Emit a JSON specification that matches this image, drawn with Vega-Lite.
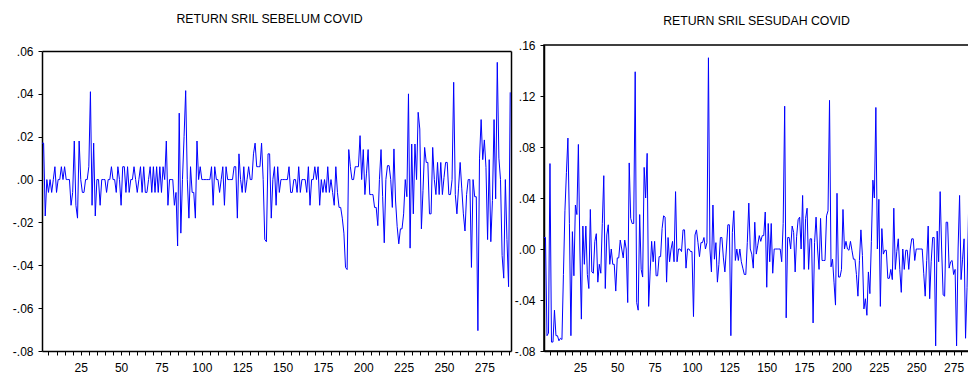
{
  "$schema": "https://vega.github.io/schema/vega-lite/v6.json",
  "padding": {"left": 12, "top": 12, "right": 0, "bottom": 0},
  "spacing": 0,
  "columns": 2,
  "align": "none",
  "config": {
    "font": "Liberation Sans",
    "view": {"stroke": "#000000", "strokeWidth": 1.5},
    "axis": {"domainColor": "#000000", "domainWidth": 1.5, "tickColor": "#000000", "labelColor": "#000000", "labelFont": "Liberation Sans", "labelFontSize": 12, "grid": false, "title": null},
    "title": {"font": "Liberation Sans", "fontWeight": "normal", "fontSize": 12, "color": "#000000"}
  },
  "datasets": {
    "sebelum": [
      {"t":1,"r":0.017},{"t":2,"r":0.017},{"t":3,"r":-0.017},{"t":4,"r":0},{"t":5,"r":-0.006},{"t":6,"r":0},{"t":7,"r":-0.006},{"t":8,"r":0},{"t":9,"r":0.006},{"t":10,"r":-0.006},
      {"t":11,"r":0},{"t":12,"r":0},{"t":13,"r":0.006},{"t":14,"r":0},{"t":15,"r":0.006},{"t":16,"r":0},{"t":17,"r":0},{"t":18,"r":0},{"t":19,"r":-0.012},{"t":20,"r":-0.006},
      {"t":21,"r":0.018},{"t":22,"r":-0.012},{"t":23,"r":-0.018},{"t":24,"r":0.018},{"t":25,"r":0},{"t":26,"r":-0.006},{"t":27,"r":-0.006},{"t":28,"r":0},{"t":29,"r":0},{"t":30,"r":0.006},
      {"t":31,"r":0.041},{"t":32,"r":-0.012},{"t":33,"r":0.017},{"t":34,"r":-0.017},{"t":35,"r":0},{"t":36,"r":0},{"t":37,"r":-0.012},{"t":38,"r":0},{"t":39,"r":0},{"t":40,"r":0},
      {"t":41,"r":-0.006},{"t":42,"r":0},{"t":43,"r":0},{"t":44,"r":0.006},{"t":45,"r":0},{"t":46,"r":0},{"t":47,"r":-0.006},{"t":48,"r":0.006},{"t":49,"r":0},{"t":50,"r":-0.012},
      {"t":51,"r":0.006},{"t":52,"r":0.006},{"t":53,"r":-0.006},{"t":54,"r":0.006},{"t":55,"r":-0.006},{"t":56,"r":0},{"t":57,"r":0},{"t":58,"r":0.006},{"t":59,"r":0},{"t":60,"r":-0.006},
      {"t":61,"r":0},{"t":62,"r":0.006},{"t":63,"r":-0.006},{"t":64,"r":0.006},{"t":65,"r":-0.006},{"t":66,"r":-0.006},{"t":67,"r":0},{"t":68,"r":0.006},{"t":69,"r":-0.006},{"t":70,"r":0.006},
      {"t":71,"r":-0.006},{"t":72,"r":0.006},{"t":73,"r":-0.006},{"t":74,"r":0.006},{"t":75,"r":-0.006},{"t":76,"r":0.006},{"t":77,"r":0},{"t":78,"r":0.018},{"t":79,"r":-0.012},{"t":80,"r":0},
      {"t":81,"r":0},{"t":82,"r":0},{"t":83,"r":-0.012},{"t":84,"r":-0.006},{"t":85,"r":-0.031},{"t":86,"r":0.031},{"t":87,"r":-0.025},{"t":88,"r":0},{"t":89,"r":0.02},{"t":90,"r":0.0415},
      {"t":91,"r":0},{"t":92,"r":-0.018},{"t":93,"r":0.006},{"t":94,"r":-0.006},{"t":95,"r":-0.006},{"t":96,"r":-0.018},{"t":97,"r":0.018},{"t":98,"r":0},{"t":99,"r":0.006},{"t":100,"r":0},
      {"t":101,"r":0},{"t":102,"r":0},{"t":103,"r":0},{"t":104,"r":0},{"t":105,"r":0},{"t":106,"r":0.006},{"t":107,"r":-0.012},{"t":108,"r":0.006},{"t":109,"r":0},{"t":110,"r":0},
      {"t":111,"r":-0.006},{"t":112,"r":0},{"t":113,"r":0.006},{"t":114,"r":-0.012},{"t":115,"r":0.006},{"t":116,"r":0},{"t":117,"r":0},{"t":118,"r":0},{"t":119,"r":0},{"t":120,"r":0.006},
      {"t":121,"r":0.006},{"t":122,"r":-0.018},{"t":123,"r":0.012},{"t":124,"r":0},{"t":125,"r":-0.006},{"t":126,"r":0.006},{"t":127,"r":-0.006},{"t":128,"r":0},{"t":129,"r":0.006},{"t":130,"r":0},
      {"t":131,"r":0},{"t":132,"r":0.012},{"t":133,"r":0.017},{"t":134,"r":0.006},{"t":135,"r":0.006},{"t":136,"r":0.006},{"t":137,"r":0.017},{"t":138,"r":0},{"t":139,"r":-0.028},{"t":140,"r":-0.029},
      {"t":141,"r":0.012},{"t":142,"r":0.012},{"t":143,"r":-0.018},{"t":144,"r":0},{"t":145,"r":0.006},{"t":146,"r":-0.012},{"t":147,"r":0.006},{"t":148,"r":-0.006},{"t":149,"r":0},{"t":150,"r":0},
      {"t":151,"r":0},{"t":152,"r":0},{"t":153,"r":0},{"t":154,"r":0.006},{"t":155,"r":-0.006},{"t":156,"r":-0.006},{"t":157,"r":0},{"t":158,"r":0},{"t":159,"r":-0.006},{"t":160,"r":0.006},
      {"t":161,"r":-0.006},{"t":162,"r":0},{"t":163,"r":0},{"t":164,"r":0},{"t":165,"r":-0.006},{"t":166,"r":0.006},{"t":167,"r":-0.012},{"t":168,"r":0},{"t":169,"r":0},{"t":170,"r":0.006},
      {"t":171,"r":0},{"t":172,"r":0.006},{"t":173,"r":-0.012},{"t":174,"r":0},{"t":175,"r":-0.006},{"t":176,"r":0},{"t":177,"r":-0.006},{"t":178,"r":0.006},{"t":179,"r":-0.006},{"t":180,"r":0},
      {"t":181,"r":-0.006},{"t":182,"r":-0.012},{"t":183,"r":0.006},{"t":184,"r":-0.006},{"t":185,"r":-0.013},{"t":186,"r":-0.013},{"t":187,"r":-0.018},{"t":188,"r":-0.025},{"t":189,"r":-0.041},{"t":190,"r":-0.042},
      {"t":191,"r":0.014},{"t":192,"r":0.006},{"t":193,"r":0},{"t":194,"r":0},{"t":195,"r":0.006},{"t":196,"r":0.006},{"t":197,"r":0.006},{"t":198,"r":0.0205},{"t":199,"r":0},{"t":200,"r":0.014},
      {"t":201,"r":-0.007},{"t":202,"r":0.003},{"t":203,"r":0.014},{"t":204,"r":-0.007},{"t":205,"r":-0.007},{"t":206,"r":-0.007},{"t":207,"r":-0.013},{"t":208,"r":-0.013},{"t":209,"r":-0.0215},{"t":210,"r":0},
      {"t":211,"r":0.014},{"t":212,"r":-0.008},{"t":213,"r":-0.0295},{"t":214,"r":0},{"t":215,"r":0.0065},{"t":216,"r":0.0065},{"t":217,"r":0},{"t":218,"r":-0.013},{"t":219,"r":0.0143},{"t":220,"r":-0.01},
      {"t":221,"r":-0.022},{"t":222,"r":-0.03},{"t":223,"r":-0.023},{"t":224,"r":-0.023},{"t":225,"r":-0.016},{"t":226,"r":0},{"t":227,"r":-0.008},{"t":228,"r":0.04},{"t":229,"r":-0.032},{"t":230,"r":0.0166},
      {"t":231,"r":-0.016},{"t":232,"r":0.0166},{"t":233,"r":0},{"t":234,"r":0.0314},{"t":235,"r":0.0236},{"t":236,"r":-0.023},{"t":237,"r":-0.005},{"t":238,"r":0.015},{"t":239,"r":0.008},{"t":240,"r":0.008},
      {"t":241,"r":-0.016},{"t":242,"r":-0.016},{"t":243,"r":0.015},{"t":244,"r":0},{"t":245,"r":-0.007},{"t":246,"r":0.008},{"t":247,"r":-0.007},{"t":248,"r":0.008},{"t":249,"r":-0.007},{"t":250,"r":0.001},
      {"t":251,"r":0.008},{"t":252,"r":0.008},{"t":253,"r":-0.007},{"t":254,"r":-0.007},{"t":255,"r":0},{"t":256,"r":0.0454},{"t":257,"r":-0.007},{"t":258,"r":-0.016},{"t":259,"r":-0.004},{"t":260,"r":0.008},
      {"t":261,"r":-0.004},{"t":262,"r":-0.016},{"t":263,"r":-0.024},{"t":264,"r":-0.007},{"t":265,"r":0},{"t":266,"r":0},{"t":267,"r":-0.041},{"t":268,"r":0},{"t":269,"r":-0.008},{"t":270,"r":-0.008},
      {"t":271,"r":-0.0705},{"t":272,"r":0.01},{"t":273,"r":0.028},{"t":274,"r":0.0093},{"t":275,"r":0.0185},{"t":276,"r":0.0057},{"t":277,"r":-0.028},{"t":278,"r":0.0093},{"t":279,"r":-0.029},{"t":280,"r":-0.0098},
      {"t":281,"r":0.028},{"t":282,"r":-0.009},{"t":283,"r":0.0547},{"t":284,"r":0.01},{"t":285,"r":0},{"t":286,"r":-0.0355},{"t":287,"r":-0.046},{"t":288,"r":0},{"t":289,"r":-0.028},{"t":290,"r":-0.05},
      {"t":291,"r":0.0407}
    ],
    "sesudah": [
      {"t":1,"r":0.009},{"t":2,"r":0.009},{"t":3,"r":-0.068},{"t":4,"r":-0.066},{"t":5,"r":0.067},{"t":6,"r":-0.073},{"t":7,"r":-0.073},{"t":8,"r":-0.048},{"t":9,"r":-0.068},{"t":10,"r":-0.068},
      {"t":11,"r":-0.072},{"t":12,"r":-0.07},{"t":13,"r":-0.071},{"t":14,"r":-0.02},{"t":15,"r":0.03},{"t":16,"r":0.06},{"t":17,"r":0.087},{"t":18,"r":0.02},{"t":19,"r":-0.068},{"t":20,"r":0.0136},
      {"t":21,"r":-0.021},{"t":22,"r":0.0345},{"t":23,"r":0.027},{"t":24,"r":0.082},{"t":25,"r":0},{"t":26,"r":-0.055},{"t":27,"r":0.018},{"t":28,"r":-0.012},{"t":29,"r":0.018},{"t":30,"r":-0.02},
      {"t":31,"r":-0.031},{"t":32,"r":0.031},{"t":33,"r":-0.018},{"t":34,"r":-0.019},{"t":35,"r":0.006},{"t":36,"r":0.012},{"t":37,"r":-0.026},{"t":38,"r":-0.012},{"t":39,"r":-0.019},{"t":40,"r":0.02},
      {"t":41,"r":0.0575},{"t":42,"r":-0.031},{"t":43,"r":0.011},{"t":44,"r":0.019},{"t":45,"r":-0.012},{"t":46,"r":0},{"t":47,"r":-0.012},{"t":48,"r":-0.012},{"t":49,"r":-0.033},{"t":50,"r":-0.007},
      {"t":51,"r":-0.007},{"t":52,"r":0.007},{"t":53,"r":0},{"t":54,"r":-0.007},{"t":55,"r":0.007},{"t":56,"r":0},{"t":57,"r":-0.042},{"t":58,"r":0.0675},{"t":59,"r":0.024},{"t":60,"r":0.02},
      {"t":61,"r":0.02},{"t":62,"r":0.139},{"t":63,"r":-0.042},{"t":64,"r":-0.048},{"t":65,"r":0.027},{"t":66,"r":-0.016},{"t":67,"r":-0.022},{"t":68,"r":0.064},{"t":69,"r":0.04},{"t":70,"r":0.075},
      {"t":71,"r":-0.045},{"t":72,"r":-0.018},{"t":73,"r":0.006},{"t":74,"r":-0.01},{"t":75,"r":0.006},{"t":76,"r":-0.021},{"t":77,"r":-0.021},{"t":78,"r":-0.006},{"t":79,"r":-0.006},{"t":80,"r":0.016},
      {"t":81,"r":0.026},{"t":82,"r":0.025},{"t":83,"r":-0.026},{"t":84,"r":0.009},{"t":85,"r":-0.01},{"t":86,"r":0},{"t":87,"r":0.006},{"t":88,"r":-0.01},{"t":89,"r":0.045},{"t":90,"r":-0.01},
      {"t":91,"r":0},{"t":92,"r":0},{"t":93,"r":-0.002},{"t":94,"r":0.015},{"t":95,"r":0.015},{"t":96,"r":-0.015},{"t":97,"r":0},{"t":98,"r":0},{"t":99,"r":-0.002},{"t":100,"r":-0.002},
      {"t":101,"r":-0.053},{"t":102,"r":0.011},{"t":103,"r":0.015},{"t":104,"r":0.005},{"t":105,"r":-0.006},{"t":106,"r":0.005},{"t":107,"r":0.005},{"t":108,"r":0.009},{"t":109,"r":0},{"t":110,"r":0.005},
      {"t":111,"r":0.15},{"t":112,"r":0},{"t":113,"r":-0.018},{"t":114,"r":0.0345},{"t":115,"r":-0.008},{"t":116,"r":0.005},{"t":117,"r":-0.026},{"t":118,"r":-0.012},{"t":119,"r":0.009},{"t":120,"r":0.009},
      {"t":121,"r":-0.007},{"t":122,"r":-0.018},{"t":123,"r":0},{"t":124,"r":0.019},{"t":125,"r":0.019},{"t":126,"r":-0.068},{"t":127,"r":0.013},{"t":128,"r":0.03},{"t":129,"r":-0.009},{"t":130,"r":0},
      {"t":131,"r":-0.009},{"t":132,"r":0},{"t":133,"r":-0.01},{"t":134,"r":-0.015},{"t":135,"r":-0.02},{"t":136,"r":-0.02},{"t":137,"r":0.005},{"t":138,"r":0.036},{"t":139,"r":0},{"t":140,"r":-0.004},
      {"t":141,"r":-0.015},{"t":142,"r":0.021},{"t":143,"r":-0.004},{"t":144,"r":0.003},{"t":145,"r":0.0105},{"t":146,"r":0.006},{"t":147,"r":0.0105},{"t":148,"r":0.0105},{"t":149,"r":0.029},{"t":150,"r":-0.03},
      {"t":151,"r":0.02},{"t":152,"r":-0.01},{"t":153,"r":0.02},{"t":154,"r":-0.019},{"t":155,"r":0},{"t":156,"r":0},{"t":157,"r":0},{"t":158,"r":0},{"t":159,"r":0},{"t":160,"r":-0.01},
      {"t":161,"r":0.02},{"t":162,"r":0.112},{"t":163,"r":-0.054},{"t":164,"r":0.009},{"t":165,"r":0.009},{"t":166,"r":0},{"t":167,"r":0.018},{"t":168,"r":0.013},{"t":169,"r":-0.018},{"t":170,"r":0.01},
      {"t":171,"r":0.023},{"t":172,"r":0.025},{"t":173,"r":0},{"t":174,"r":0.042},{"t":175,"r":-0.016},{"t":176,"r":0.024},{"t":177,"r":0.032},{"t":178,"r":-0.016},{"t":179,"r":0.008},{"t":180,"r":0.008},
      {"t":181,"r":-0.058},{"t":182,"r":0.005},{"t":183,"r":0.025},{"t":184,"r":0},{"t":185,"r":-0.016},{"t":186,"r":0.024},{"t":187,"r":-0.009},{"t":188,"r":-0.009},{"t":189,"r":-0.009},{"t":190,"r":0.026},
      {"t":191,"r":0.03},{"t":192,"r":0.1166},{"t":193,"r":-0.014},{"t":194,"r":-0.008},{"t":195,"r":-0.026},{"t":196,"r":-0.044},{"t":197,"r":0.0437},{"t":198,"r":-0.022},{"t":199,"r":-0.022},{"t":200,"r":-0.016},
      {"t":201,"r":0.031},{"t":202,"r":0},{"t":203,"r":0.006},{"t":204,"r":0},{"t":205,"r":-0.001},{"t":206,"r":0.006},{"t":207,"r":-0.001},{"t":208,"r":-0.008},{"t":209,"r":-0.008},{"t":210,"r":-0.02},
      {"t":211,"r":-0.037},{"t":212,"r":-0.009},{"t":213,"r":0.015},{"t":214,"r":-0.005},{"t":215,"r":-0.047},{"t":216,"r":-0.039},{"t":217,"r":-0.052},{"t":218,"r":-0.018},{"t":219,"r":-0.035},{"t":220,"r":0.006},
      {"t":221,"r":0.054},{"t":222,"r":0.04},{"t":223,"r":0.111},{"t":224,"r":0},{"t":225,"r":0.039},{"t":226,"r":-0.045},{"t":227,"r":0.016},{"t":228,"r":-0.004},{"t":229,"r":-0.001},{"t":230,"r":-0.001},
      {"t":231,"r":-0.023},{"t":232,"r":-0.023},{"t":233,"r":-0.016},{"t":234,"r":-0.024},{"t":235,"r":0.032},{"t":236,"r":-0.016},{"t":237,"r":-0.002},{"t":238,"r":0.008},{"t":239,"r":-0.016},{"t":240,"r":-0.034},
      {"t":241,"r":0},{"t":242,"r":-0.016},{"t":243,"r":-0.001},{"t":244,"r":-0.001},{"t":245,"r":-0.016},{"t":246,"r":0},{"t":247,"r":0.008},{"t":248,"r":0.008},{"t":249,"r":-0.009},{"t":250,"r":0},
      {"t":251,"r":0},{"t":252,"r":0},{"t":253,"r":0},{"t":254,"r":0},{"t":255,"r":-0.019},{"t":256,"r":-0.037},{"t":257,"r":-0.009},{"t":258,"r":0.018},{"t":259,"r":-0.039},{"t":260,"r":-0.01},
      {"t":261,"r":0.009},{"t":262,"r":0.009},{"t":263,"r":-0.076},{"t":264,"r":0.014},{"t":265,"r":-0.01},{"t":266,"r":0.045},{"t":267,"r":0},{"t":268,"r":-0.036},{"t":269,"r":-0.037},{"t":270,"r":0.021},
      {"t":271,"r":0.021},{"t":272,"r":-0.015},{"t":273,"r":-0.01},{"t":274,"r":-0.009},{"t":275,"r":-0.02},{"t":276,"r":-0.016},{"t":277,"r":-0.076},{"t":278,"r":0},{"t":279,"r":0.042},{"t":280,"r":-0.024},
      {"t":281,"r":-0.008},{"t":282,"r":0.008},{"t":283,"r":-0.07},{"t":284,"r":-0.03},{"t":285,"r":0.03}
    ]
  },
  "concat": [
    {
      "title": {"text": "RETURN SRIL SEBELUM COVID", "fontSize": 12.3, "offset": 20, "dx": -7},
      "width": 469,
      "height": 306,
      "view": {"stroke": null},
      "data": {"name": "sebelum"},
      "layer": [
        {
          "mark": {"type": "line", "color": "#0000ff", "strokeWidth": 1},
          "encoding": {
            "x": {
              "field": "t", "type": "quantitative",
              "scale": {"domain": [1, 291.5], "nice": false, "zero": false},
              "axis": {
                "orient": "bottom",
                "values": [5,10,15,20,25,30,35,40,45,50,55,60,65,70,75,80,85,90,95,100,105,110,115,120,125,130,135,140,145,150,155,160,165,170,175,180,185,190,195,200,205,210,215,220,225,230,235,240,245,250,255,260,265,270,275,280,285,290],
                "labelExpr": "datum.value % 25 === 0 ? datum.label : ''",
                "tickSize": 4, "labelPadding": 7, "labelFlush": false, "labelOverlap": false
              }
            },
            "y": {
              "field": "r", "type": "quantitative",
              "scale": {"domain": [-0.08, 0.06], "nice": false, "zero": false, "range": [306, 6]},
              "axis": {
                "orient": "left",
                "values": [-0.08,-0.06,-0.04,-0.02,0,0.02,0.04,0.06],
                "labelExpr": "(datum.value < -0.0001 ? '-' : '') + substring(format(abs(datum.value), '.2f'), 1)",
                "tickSize": 4, "labelPadding": 5, "labelFlush": false, "labelOverlap": false
              }
            }
          }
        },
        {
          "mark": {"type": "line", "opacity": 0},
          "encoding": {
            "x": {
              "field": "t", "type": "quantitative",
              "axis": {"orient": "top", "offset": -6, "labels": false, "ticks": false, "domain": true}
            },
            "y": {
              "field": "r", "type": "quantitative",
              "axis": {"orient": "right", "labels": false, "ticks": false, "domain": true}
            }
          }
        }
      ],
      "resolve": {"axis": {"x": "independent", "y": "independent"}}
    },
    {
      "title": {"text": "RETURN SRIL SESUDAH COVID", "fontSize": 12.3, "offset": 12},
      "width": 425,
      "height": 306,
      "data": {"name": "sesudah"},
      "mark": {"type": "line", "color": "#0000ff", "strokeWidth": 1},
      "encoding": {
        "x": {
          "field": "t", "type": "quantitative",
          "scale": {"domain": [1, 285.3], "nice": false, "zero": false},
          "axis": {
            "values": [5,10,15,20,25,30,35,40,45,50,55,60,65,70,75,80,85,90,95,100,105,110,115,120,125,130,135,140,145,150,155,160,165,170,175,180,185,190,195,200,205,210,215,220,225,230,235,240,245,250,255,260,265,270,275,280,285],
            "labelExpr": "datum.value % 25 === 0 ? datum.label : ''",
            "tickSize": 4, "labelPadding": 7, "labelFlush": false, "labelOverlap": false
          }
        },
        "y": {
          "field": "r", "type": "quantitative",
          "scale": {"domain": [-0.08, 0.16], "nice": false, "zero": false},
          "axis": {
            "values": [-0.08,-0.04,0,0.04,0.08,0.12,0.16],
            "labelExpr": "(datum.value < -0.0001 ? '-' : '') + substring(format(abs(datum.value), '.2f'), 1)",
            "tickSize": 4, "labelPadding": 5, "labelFlush": false, "labelOverlap": false
          }
        }
      }
    }
  ]
}
